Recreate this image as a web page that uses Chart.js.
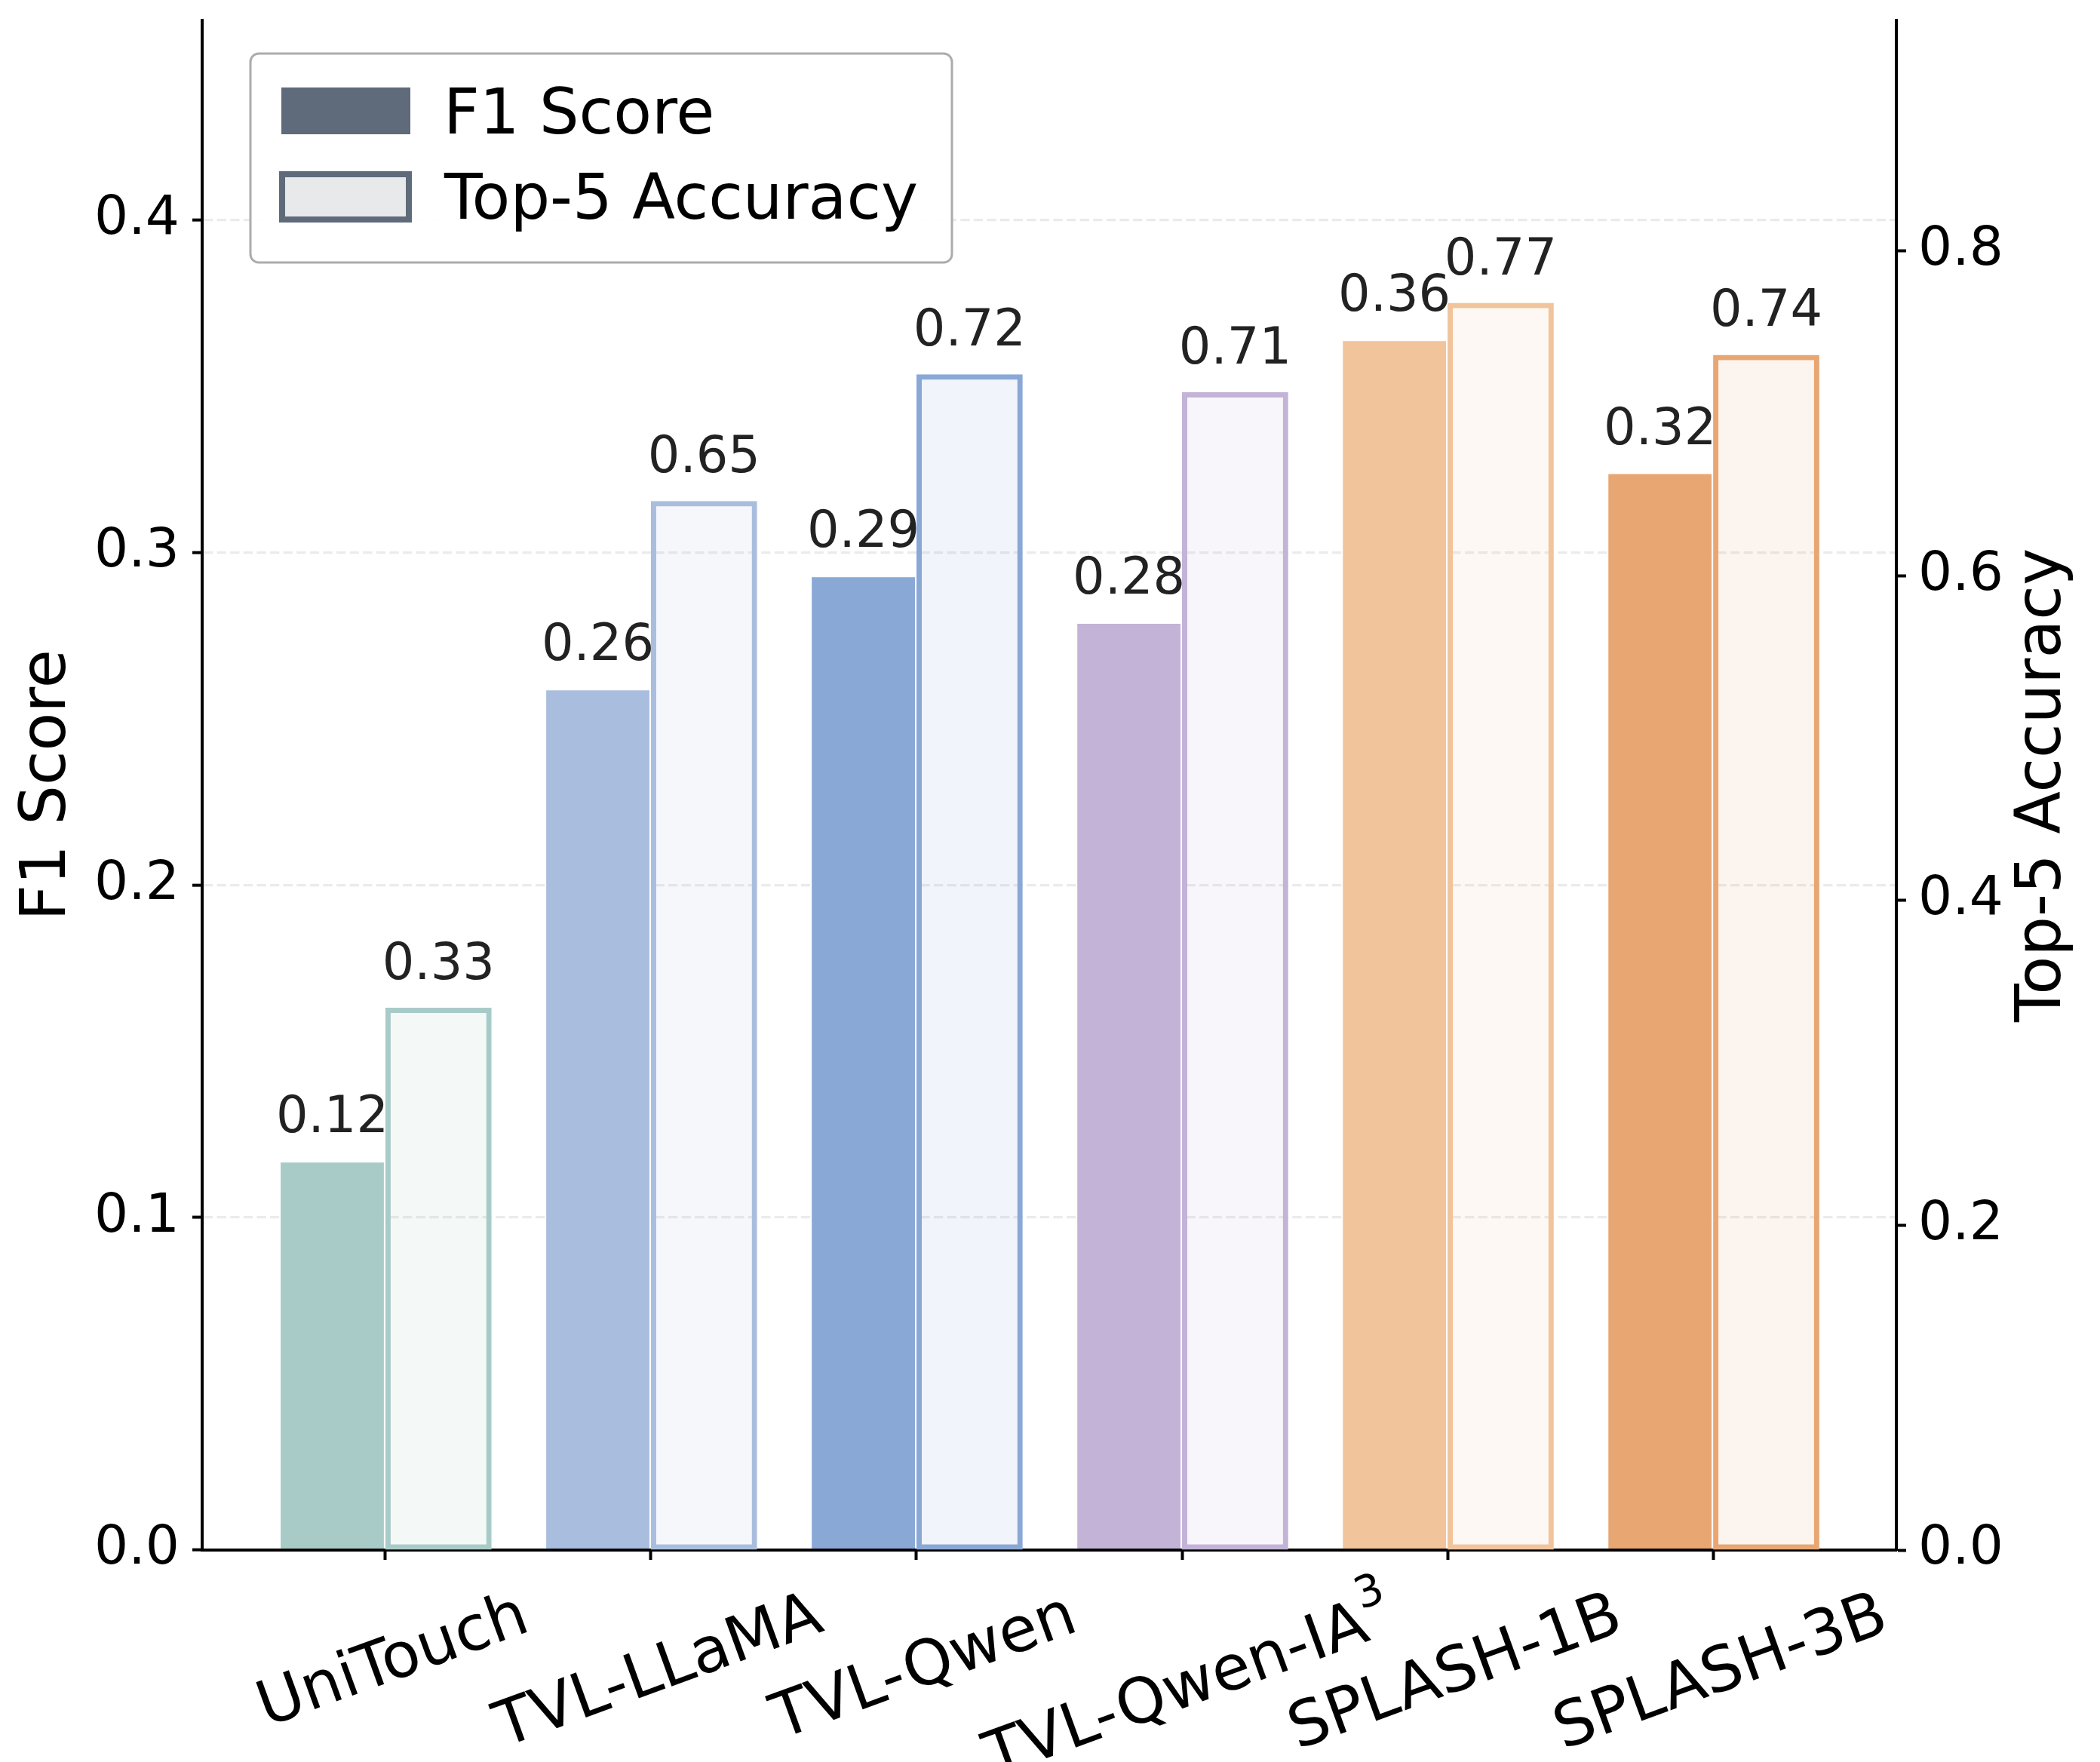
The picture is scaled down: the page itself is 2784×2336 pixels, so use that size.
<!DOCTYPE html>
<html>
<head>
<meta charset="utf-8">
<script src="https://cdn.jsdelivr.net/npm/chart.js@4.4.1/dist/chart.umd.min.js"></script>
<style>
html,body{margin:0;padding:0;background:#fff}
#wrap{width:2784px;height:2336px}
</style>
</head>
<body>
<div id="wrap"><canvas id="chart" width="2784" height="2336"></canvas></div>
<script>
const models = ["UniTouch","TVL-LLaMA","TVL-Qwen","TVL-Qwen-IA³","SPLASH-1B","SPLASH-3B"]
const f1Score = [0.117,0.259,0.293,0.279,0.364,0.324]
const top5Acc = [0.334,0.646,0.724,0.713,0.768,0.736]
const f1Ticks = [0.0,0.1,0.2,0.3,0.4]
const accTicks = [0.0,0.2,0.4,0.6,0.8]
const barColors = ["#a8cbc8","#a9bede","#89a8d6","#c3b3d7","#f1c49b","#e8a673"]

const FONT = "'DejaVu Sans', sans-serif"
const rot = 20*Math.PI/180

Chart.defaults.font.family = FONT

// light fill for the top-5 bars
function fade(hex,a){
const n = parseInt(hex.slice(1),16)
return `rgba(${n>>16},${(n>>8)&255},${n&255},${a})`
}

function roundRect(ctx,x,y,w,h,r){
ctx.beginPath()
ctx.moveTo(x+r,y)
ctx.arcTo(x+w,y,x+w,y+h,r)
ctx.arcTo(x+w,y+h,x,y+h,r)
ctx.arcTo(x,y+h,x,y,r)
ctx.arcTo(x,y,x+w,y,r)
ctx.closePath()
}

const extras = {
id:"extras",
afterDatasetsDraw(chart){
const ctx = chart.ctx
ctx.save()
ctx.font = `67px ${FONT}`
ctx.fillStyle = "#222"
ctx.textAlign = "center"
ctx.textBaseline = "alphabetic"
chart.data.datasets.forEach((ds,di)=>{
chart.getDatasetMeta(di).data.forEach((bar,i)=>{
ctx.fillText(ds.data[i].y.toFixed(2), bar.x, bar.y-38)
})
})
ctx.restore()
},
afterDraw(chart){
const ctx = chart.ctx
const area = chart.chartArea
const xs = chart.scales.x
const big = `83px ${FONT}`
const small = `58px ${FONT}`

// rotated category labels, centred under each tick
ctx.save()
ctx.fillStyle = "#000"
ctx.textBaseline = "middle"
models.forEach((m,i)=>{
const parts = m.split("³")
const base = parts[0]
const sup = parts.length>1 ? "3" : ""
ctx.font = big
const wb = ctx.measureText(base).width
ctx.font = small
const ws = sup ? ctx.measureText(sup).width : 0
const w = wb+ws
const cx = xs.getPixelForValue(i)+11
const cy = area.bottom+86+w/2*Math.sin(rot)
ctx.save()
ctx.translate(cx,cy)
ctx.rotate(-rot)
ctx.textAlign = "left"
ctx.font = big
ctx.fillText(base,-w/2,0)
if(sup){
ctx.font = small
ctx.fillText(sup,-w/2+wb,-36)
}
ctx.restore()
})

// right axis title, reading upwards
ctx.font = big
ctx.textAlign = "center"
ctx.save()
ctx.translate(2709,(area.top+area.bottom)/2)
ctx.rotate(-Math.PI/2)
ctx.fillText("Top-5 Accuracy",0,0)
ctx.restore()

// legend
ctx.fillStyle = "rgba(255,255,255,0.95)"
ctx.strokeStyle = "#acacac"
ctx.lineWidth = 3
roundRect(ctx,332,71,930,277,11)
ctx.fill()
ctx.stroke()

ctx.fillStyle = "#5f6b7a"
ctx.fillRect(373,116,171,62)

ctx.fillStyle = "#e8e9eb"
ctx.fillRect(374,231,168,60)
ctx.strokeStyle = "#5f6b7a"
ctx.lineWidth = 8
ctx.strokeRect(374,231,168,60)

ctx.fillStyle = "#000"
ctx.textAlign = "left"
ctx.textBaseline = "alphabetic"
ctx.fillText(chart.data.datasets[0].label,588,177)
ctx.fillText(chart.data.datasets[1].label,589,290)
ctx.restore()
}
}

new Chart(document.getElementById("chart"),{
type:"bar",
data:{
datasets:[
{
label:"F1 Score",
data:models.map((m,i)=>({x:i,y:f1Score[i]})),
yAxisID:"y",
backgroundColor:barColors,
borderColor:"#ffffff",
borderWidth:2,
borderSkipped:"bottom",
categoryPercentage:0.8,
barPercentage:1
},
{
label:"Top-5 Accuracy",
data:models.map((m,i)=>({x:i,y:top5Acc[i]})),
yAxisID:"y2",
backgroundColor:barColors.map(c=>fade(c,0.12)),
borderColor:barColors,
borderWidth:7,
borderSkipped:false,
categoryPercentage:0.8,
barPercentage:1
}
]
},
options:{
responsive:false,
animation:false,
devicePixelRatio:1,
layout:{padding:{top:27,left:0,right:0,bottom:0}},
plugins:{legend:{display:false},tooltip:{enabled:false}},
scales:{
x:{
type:"linear",
position:"bottom",
offset:false,
min:-0.69,
max:5.69,
afterBuildTicks:s=>{s.ticks = models.map((m,i)=>({value:i}))},
ticks:{display:false},
grid:{offset:false,drawOnChartArea:false,drawTicks:true,tickLength:13,tickWidth:4,tickColor:"#000"},
border:{display:true,color:"#000",width:4},
afterFit:s=>{s.height = 281; s.paddingLeft = 0; s.paddingRight = 0}
},
y:{
position:"left",
min:0,
max:0.46,
afterBuildTicks:s=>{s.ticks = f1Ticks.map(v=>({value:v}))},
ticks:{callback:v=>v.toFixed(1),font:{size:71},color:"#000",padding:17},
grid:{color:"#ebebeb",lineWidth:3.3,drawTicks:true,tickLength:13,tickWidth:4,tickColor:"#000",tickBorderDash:[]},
border:{display:true,color:"#000",width:4,dash:[12.3,5.3]},
title:{display:true,text:"F1 Score",font:{size:83},color:"#000",padding:{top:15,bottom:0}},
afterFit:s=>{s.width = 268; s.paddingTop = 0; s.paddingBottom = 0}
},
y2:{
position:"right",
min:0,
max:0.942,
afterBuildTicks:s=>{s.ticks = accTicks.map(v=>({value:v}))},
ticks:{callback:v=>v.toFixed(1),font:{size:71},color:"#000",padding:16},
grid:{drawOnChartArea:false,drawTicks:true,tickLength:13,tickWidth:4,tickColor:"#000"},
border:{display:true,color:"#000",width:4},
afterFit:s=>{s.width = 270; s.paddingTop = 0; s.paddingBottom = 0}
}
}
},
plugins:[extras]
})
</script>
</body>
</html>
